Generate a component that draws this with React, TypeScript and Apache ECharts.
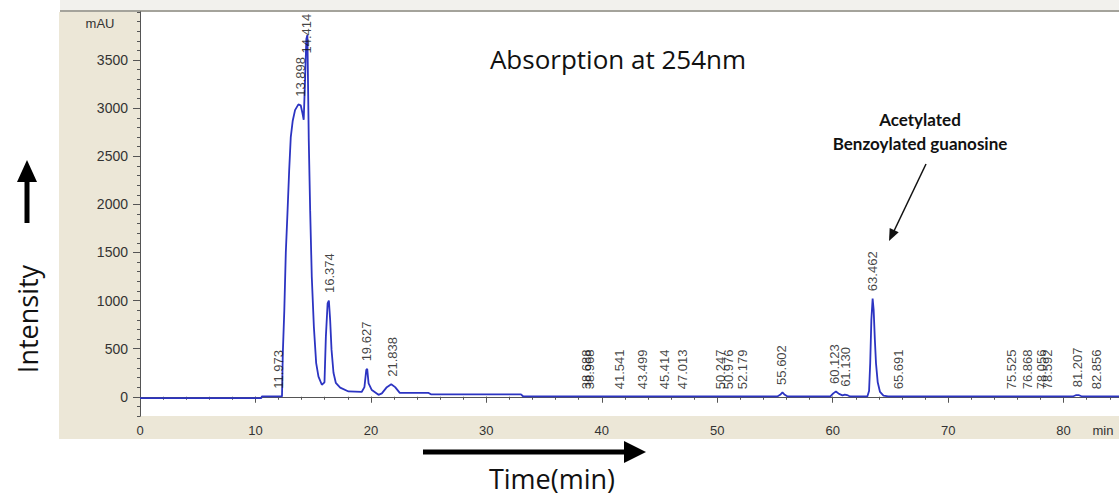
import React, { useEffect, useRef } from "react";
import * as echarts from "echarts";

// ---- data ----
const traceTime = [
  0, 10.5, 10.55, 12.3, 12.37, 12.5, 12.63, 12.77, 12.92, 13.06, 13.23, 13.43, 13.72, 13.92,
  14.07, 14.18, 14.3, 14.41, 14.5, 14.62, 14.74, 14.88, 15.06, 15.26, 15.46, 15.75, 15.98,
  16.1, 16.25, 16.36, 16.47, 16.59, 16.76, 16.96, 17.34, 18.06, 19.2, 19.44, 19.6, 19.68,
  19.8, 20.08, 20.66, 20.95, 21.38, 21.76, 22.1, 22.5, 23.0, 25.0, 25.2, 33.0, 33.2,
  55.2, 55.45, 55.65, 55.85, 56.1, 59.8, 60.05, 60.28, 60.55, 60.85, 61.05, 61.25, 61.5,
  63.0, 63.15, 63.25, 63.35, 63.46, 63.55, 63.65, 63.75, 63.9, 64.1, 64.4, 64.8,
  80.8, 81.1, 81.3, 81.6, 84.8,
];
const traceSignal = [
  -15, -15, 3, 3, 450, 900, 1500, 1900, 2350, 2700, 2870, 2980, 3040, 3030,
  2950, 2880, 3300, 3720, 3760, 2660, 1935, 1245, 728, 350, 210, 125, 150,
  625, 970, 1000, 800, 490, 250, 145, 95, 55, 50, 100, 280, 290,
  140, 70, 20, 35, 100, 130, 100, 40, 40, 40, 25, 25, 3,
  3, 20, 45, 20, 3, 3, 35, 55, 30, 15, 22, 18, 3,
  3, 60, 350, 800, 1020, 900, 600, 350, 150, 50, 12, 3,
  3, 18, 18, 3, 3,
];

const peakTimes = [
  11.973, 13.898, 14.414, 16.374, 19.627, 21.838, 38.688, 38.968, 41.541, 43.499, 45.414,
  47.013, 50.247, 50.976, 52.179, 55.602, 60.123, 61.13, 63.462, 65.691, 75.525, 76.868,
  78.056, 78.592, 81.207, 82.856,
];
const peakHeights = [
  5, 3040, 3760, 1000, 290, 130, 0, 0, 0, 0, 0,
  0, 0, 0, 0, 45, 55, 25, 1020, 0, 0, 0,
  0, 0, 20, 0,
];

const xMajorTicks = [0, 10, 20, 30, 40, 50, 60, 70, 80];
const yMajorTicks = [0, 500, 1000, 1500, 2000, 2500, 3000, 3500];
const xMinorStep = 2;
const yMinorStep = 100;

const TRACE_COLOR = "#2c34c2";
const AXIS_COLOR = "#555555";
const LABEL_FONT = "Liberation Sans, Arial, sans-serif";
const DECOR_FONT = "'Open Sans', Lato, sans-serif";
const NOTE_FONT = "Lato, 'Open Sans', sans-serif";

function arrowHead(tip: [number, number], tail: [number, number], len: number, half: number) {
  const dx = tip[0] - tail[0];
  const dy = tip[1] - tail[1];
  const d = Math.sqrt(dx * dx + dy * dy);
  const ux = dx / d;
  const uy = dy / d;
  const bx = tip[0] - ux * len;
  const by = tip[1] - uy * len;
  return [
    [tip[0], tip[1]],
    [bx - uy * half, by + ux * half],
    [bx + uy * half, by - ux * half],
  ];
}

export default function App() {
  const ref = useRef<HTMLDivElement>(null);

  useEffect(() => {
    if (!ref.current) return;
    const chart = echarts.init(ref.current, null, { renderer: "svg" });

    const yMin = -200;
    const yMax = 4000;
    const xMax = 84.8;
    const labelAnchor = peakHeights.map((h) => Math.min(h, yMax - 510));

    const option: any = {
      animation: false,
      backgroundColor: "#ffffff",
      grid: { left: 140, top: 12, right: 0, bottom: 83, containLabel: false, outerBoundsMode: "none" },
      xAxis: [
        {
          type: "value",
          min: 0,
          max: xMax,
          interval: xMinorStep,
          position: "bottom",
          axisLine: { show: true, lineStyle: { color: AXIS_COLOR, width: 1 } },
          axisTick: { show: true, length: 3, lineStyle: { color: AXIS_COLOR } },
          axisLabel: {
            show: true,
            customValues: xMajorTicks,
            formatter: (v: number) => String(v),
            margin: 8,
            fontSize: 13,
            fontFamily: LABEL_FONT,
            color: "#333333",
          },
          splitLine: { show: false },
        },
        {
          type: "value",
          min: 0,
          max: xMax,
          position: "bottom",
          axisLine: { show: true, lineStyle: { color: AXIS_COLOR, width: 1 } },
          axisTick: { show: true, customValues: xMajorTicks, length: 6, lineStyle: { color: AXIS_COLOR } },
          axisLabel: { show: false },
          splitLine: { show: false },
        },
      ],
      yAxis: [
        {
          type: "value",
          min: yMin,
          max: yMax,
          interval: yMinorStep,
          position: "left",
          axisLine: { show: true, lineStyle: { color: AXIS_COLOR, width: 1 } },
          axisTick: { show: true, length: 3, lineStyle: { color: AXIS_COLOR } },
          axisLabel: {
            show: true,
            customValues: yMajorTicks,
            formatter: (v: number) => String(v),
            margin: 12,
            fontSize: 14,
            fontFamily: LABEL_FONT,
            color: "#333333",
          },
          splitLine: { show: false },
        },
        {
          type: "value",
          min: yMin,
          max: yMax,
          position: "left",
          axisLine: { show: true, lineStyle: { color: AXIS_COLOR, width: 1 } },
          axisTick: { show: true, customValues: yMajorTicks, length: 7, lineStyle: { color: AXIS_COLOR } },
          axisLabel: { show: false },
          splitLine: { show: false },
        },
      ],
      series: [
        {
          type: "line",
          xAxisIndex: 0,
          yAxisIndex: 0,
          data: traceTime.map((t, i) => [t, traceSignal[i]]),
          showSymbol: false,
          symbol: "none",
          lineStyle: { color: TRACE_COLOR, width: 1.8 },
          silent: true,
          z: 3,
        },
        {
          type: "scatter",
          xAxisIndex: 1,
          yAxisIndex: 1,
          data: peakTimes.map((t, i) => [t, labelAnchor[i], t.toFixed(3)]),
          symbolSize: 1,
          itemStyle: { color: "rgba(0,0,0,0)" },
          silent: true,
          z: 4,
          label: {
            show: true,
            formatter: (p: any) => p.data[2],
            rotate: 90,
            position: "top",
            distance: 7,
            align: "left",
            verticalAlign: "middle",
            fontSize: 13,
            fontFamily: LABEL_FONT,
            color: "#111111",
          },
        },
      ],
      graphic: {
        elements: [
          { type: "rect", z: -20, silent: true, shape: { x: 60, y: 0, width: 1059, height: 11 }, style: { fill: "#f2f1ed" } },
          { type: "rect", z: -19, silent: true, shape: { x: 60, y: 10, width: 1059, height: 2 }, style: { fill: "#a4a39b" } },
          { type: "rect", z: -18, silent: true, shape: { x: 59, y: 12, width: 1060, height: 427 }, style: { fill: "#ece7d7" } },
          { type: "rect", z: -17, silent: true, shape: { x: 140, y: 12, width: 979, height: 404 }, style: { fill: "#ffffff" } },
          {
            type: "text", x: 100, y: 23, silent: true,
            style: { text: "mAU", fontSize: 13, fontFamily: LABEL_FONT, fill: "#333333", align: "center", verticalAlign: "middle" },
          },
          {
            type: "text", x: 1103, y: 430, silent: true,
            style: { text: "min", fontSize: 13, fontFamily: LABEL_FONT, fill: "#333333", align: "center", verticalAlign: "middle" },
          },
          {
            type: "text", x: 618, y: 59, silent: true,
            style: { text: "Absorption at 254nm", fontSize: 26, fontFamily: DECOR_FONT, fill: "#111111", align: "center", verticalAlign: "middle" },
          },
          {
            type: "text", x: 920, y: 119, silent: true,
            style: { text: "Acetylated", fontSize: 17, fontWeight: "bold", fontFamily: NOTE_FONT, fill: "#111111", align: "center", verticalAlign: "middle" },
          },
          {
            type: "text", x: 920, y: 143, silent: true,
            style: { text: "Benzoylated guanosine", fontSize: 17, fontWeight: "bold", fontFamily: NOTE_FONT, fill: "#111111", align: "center", verticalAlign: "middle" },
          },
          {
            type: "line", silent: true,
            shape: { x1: 926, y1: 164, x2: 894, y2: 231 },
            style: { stroke: "#111111", lineWidth: 1.5 },
          },
          {
            type: "polygon", silent: true,
            shape: { points: arrowHead([889, 241], [926, 164], 12, 5) },
            style: { fill: "#111111" },
          },
          {
            type: "text", x: 27, y: 319, rotation: Math.PI / 2, silent: true,
            style: { text: "Intensity", fontSize: 27, fontFamily: DECOR_FONT, fill: "#111111", align: "center", verticalAlign: "middle" },
          },
          {
            type: "line", silent: true,
            shape: { x1: 27, y1: 223, x2: 27, y2: 178 },
            style: { stroke: "#000000", lineWidth: 5 },
          },
          {
            type: "polygon", silent: true,
            shape: { points: arrowHead([27, 160], [27, 223], 22, 10) },
            style: { fill: "#000000" },
          },
          {
            type: "text", x: 552, y: 478, silent: true,
            style: { text: "Time(min)", fontSize: 27, fontFamily: DECOR_FONT, fill: "#111111", align: "center", verticalAlign: "middle" },
          },
          {
            type: "line", silent: true,
            shape: { x1: 423, y1: 452, x2: 628, y2: 452 },
            style: { stroke: "#000000", lineWidth: 5 },
          },
          {
            type: "polygon", silent: true,
            shape: { points: arrowHead([646, 452], [423, 452], 22, 11) },
            style: { fill: "#000000" },
          },
        ],
      },
    };

    chart.setOption(option);
    return () => {
      chart.dispose();
    };
  }, []);

  return (
    <div
      ref={ref}
      style={{ position: "fixed", left: 0, top: 0, width: 1119, height: 499 }}
    />
  );
}
